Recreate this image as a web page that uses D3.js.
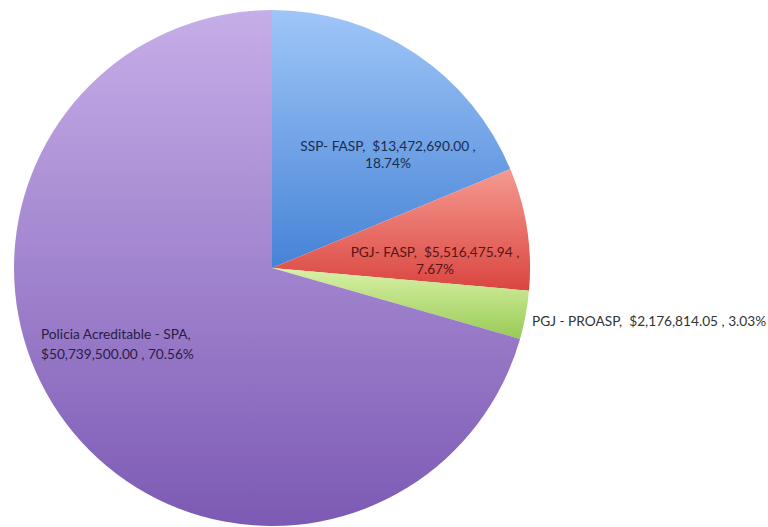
<!DOCTYPE html>
<html>
<head>
<meta charset="utf-8">
<script src="https://cdn.jsdelivr.net/npm/d3@7"></script>
<style>
  html, body { margin: 0; padding: 0; background: #fff; }
  svg { display: block; }
  text { font-family: Lato, "Open Sans", sans-serif; white-space: pre; }
</style>
</head>
<body>
<svg id="chart" width="768" height="527"></svg>
<script>
const categories = ["SSP- FASP", "PGJ- FASP", "PGJ - PROASP", "Policia Acreditable - SPA"];
const amounts = ["$13,472,690.00", "$5,516,475.94", "$2,176,814.05", "$50,739,500.00"];
const values = [13472690.00, 5516475.94, 2176814.05, 50739500.00];
const percents = ["18.74%", "7.67%", "3.03%", "70.56%"];
const colorTop = ["#a0c6f8", "#f59a90", "#d9f1a6", "#c6aee8"];
const colorBottom = ["#4683d6", "#da4540", "#98ca55", "#7c5ab4"];
const textColor = ["#1c2c4c", "#5a1414", "#333333", "#2a1c44"];

const svg = d3.select("#chart");
const cx = 272, cy = 268, r = 258;

const defs = svg.append("defs");
categories.forEach((c, i) => {
  const g = defs.append("linearGradient").attr("id", "grad" + i)
    .attr("x1", 0).attr("y1", 0).attr("x2", 0).attr("y2", 1);
  g.append("stop").attr("offset", "0%").attr("stop-color", colorTop[i]);
  g.append("stop").attr("offset", "100%").attr("stop-color", colorBottom[i]);
});

const pie = d3.pie().sort(null).value(d => d);
const arcs = pie(values);
const arc = d3.arc().innerRadius(0).outerRadius(r);

const g = svg.append("g").attr("transform", `translate(${cx},${cy})`);
g.selectAll("path").data(arcs).enter().append("path")
  .attr("d", arc)
  .attr("fill", (d, i) => `url(#grad${i})`);

// labels
const fs = 13.7;
function label(i, lines, x, y, anchor, lh) {
  const t = svg.append("text")
    .attr("x", x).attr("y", y)
    .attr("text-anchor", anchor)
    .attr("fill", textColor[i])
    .attr("font-size", fs);
  lines.forEach((ln, k) => {
    t.append("tspan").attr("x", x).attr("y", y + k * lh).text(ln);
  });
}
label(0, [`${categories[0]},  ${amounts[0]} ,`, percents[0]], 388, 151, "middle", 17);
label(1, [`${categories[1]},  ${amounts[1]} ,`, percents[1]], 435, 257, "middle", 17);
label(2, [`${categories[2]},  ${amounts[2]} , ${percents[2]}`], 532, 326, "start", 17);
label(3, [`${categories[3]},`, `${amounts[3]} , ${percents[3]}`], 41, 339, "start", 20);
</script>
</body>
</html>
